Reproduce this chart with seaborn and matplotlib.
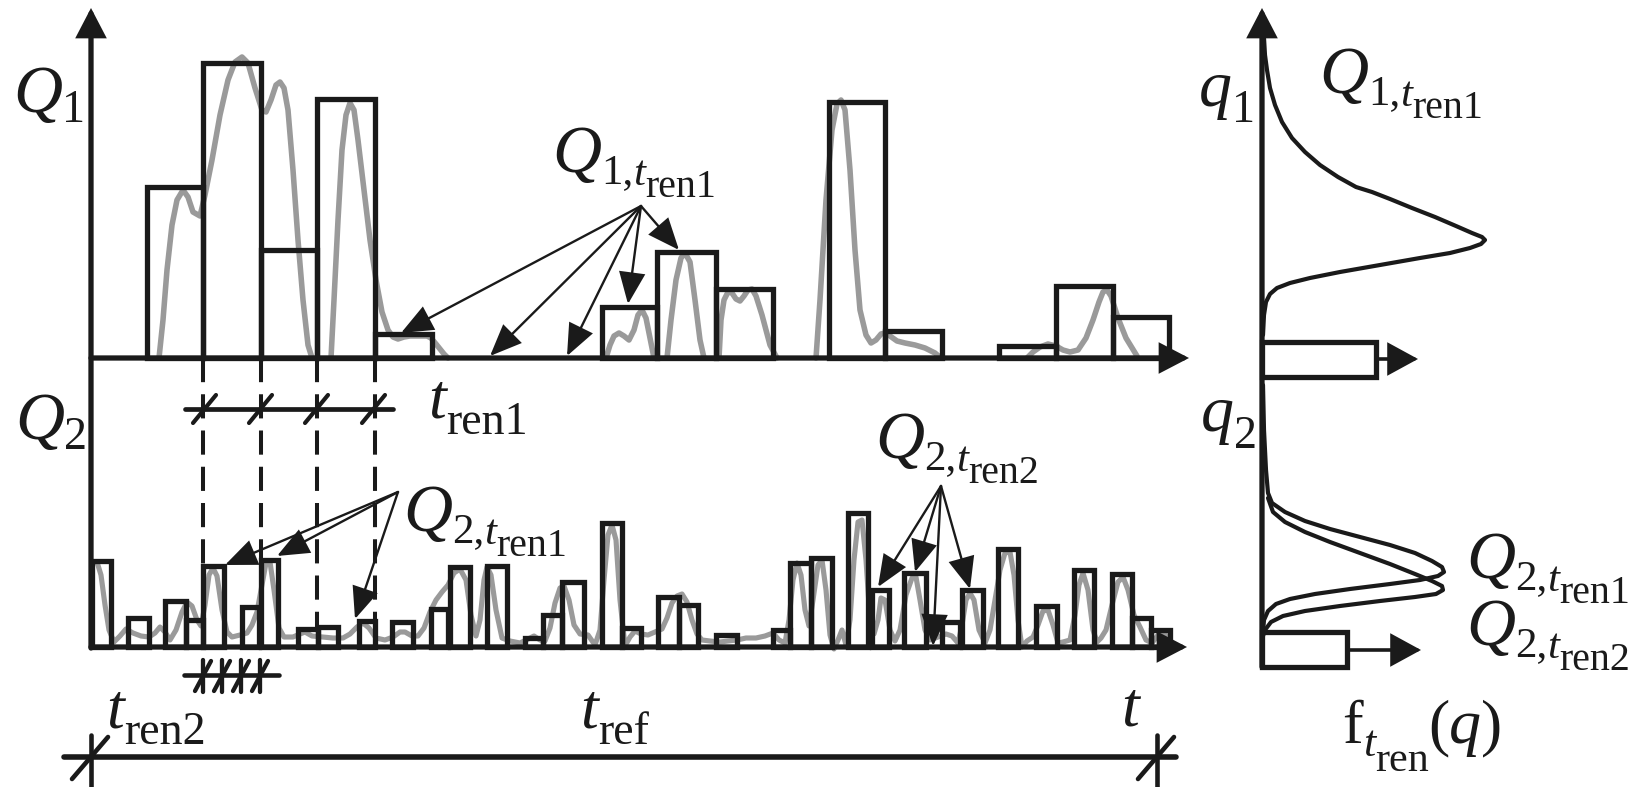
import numpy as np
import pandas as pd
import seaborn as sns
import matplotlib
matplotlib.use("Agg")
import matplotlib.pyplot as plt

# canvas is laid out in the pixel grid of the reference drawing
W, H = 1639, 787
DPI = 100

# ---------------- data ----------------
# Q1 series: bar edges along time and bar heights above its baseline
q1_base = 358
q1_left = [147, 203, 261, 317, 375, 602, 657, 716, 829, 885, 999, 1056, 1113]
q1_right = [203, 261, 317, 375, 432, 657, 716, 773, 885, 942, 1056, 1113, 1169]
q1_height = [171, 295, 108, 259, 24, 51, 106, 69, 256, 27, 12, 72, 41]

# Q2 series (finer renewal step)
q2_base = 647
q2_left = [92, 128, 165, 186, 203, 242, 261, 298, 318, 359, 392, 431, 450, 487,
           525, 543, 562, 602, 622, 658, 679, 716, 773, 790, 811, 848, 872, 904,
           942, 962, 998, 1036, 1074, 1112, 1132, 1151]
q2_right = [111, 149, 186, 203, 224, 259, 278, 318, 338, 375, 413, 448, 470, 507,
            543, 562, 584, 622, 641, 679, 698, 737, 790, 811, 832, 868, 889, 926,
            960, 983, 1018, 1057, 1094, 1132, 1151, 1170]
q2_height = [86, 29, 46, 27, 81, 40, 87, 18, 20, 26, 25, 38, 80, 81,
             9, 32, 65, 124, 19, 50, 42, 12, 17, 84, 89, 134, 57, 74,
             25, 57, 98, 41, 77, 73, 29, 17]

# raw Q1 signal (grey), segment id, t, y
q1_seg = [0] * 29 + [1] * 25 + [2] * 12 + [3] * 9 + [4] * 14 + [5] * 22 + [6] * 17
q1_t = [159, 163, 167, 172, 177, 183, 188, 193, 200, 205, 212, 220, 228, 235, 242, 248, 255,
        262, 266, 271, 276, 280, 284, 288, 293, 298, 303, 308, 312,
        331, 334, 338, 342, 346, 350, 354, 358, 364, 370, 376, 382, 388, 393, 398, 404,
        410, 416, 422, 427, 431, 436, 440, 444, 448,
        606, 610, 614, 619, 624, 629, 634, 638, 642, 646, 650, 654,
        667, 671, 676, 681, 685, 690, 695, 700, 704,
        719, 721, 724, 728, 732, 736, 740, 744, 748, 752, 756, 762, 770, 777,
        816, 820, 826, 832, 837, 841, 845, 850, 855, 860, 866, 871, 876, 881, 885, 890,
        897, 905, 915, 925, 935, 941,
        1027, 1033, 1040, 1048, 1056, 1063, 1070, 1078, 1086, 1093, 1099, 1103, 1107, 1111,
        1118, 1126, 1137]
q1_y = [358, 320, 270, 225, 200, 190, 197, 212, 216, 195, 160, 115, 80, 62, 57, 63, 88,
        110, 112, 100, 85, 82, 88, 110, 170, 240, 300, 345, 358,
        358, 300, 220, 150, 115, 103, 110, 140, 190, 240, 280, 312, 330, 337, 339, 337,
        336, 336, 336, 336, 338, 344, 349, 354, 358,
        358, 345, 336, 333, 336, 340, 330, 315, 310, 318, 338, 358,
        358, 320, 280, 258, 253, 262, 300, 340, 358,
        358, 320, 300, 292, 293, 299, 301, 296, 290, 289, 296, 315, 345, 358,
        358, 300, 200, 130, 104, 100, 110, 170, 250, 310, 335, 343, 340, 334, 333, 336,
        341, 343, 345, 348, 353, 358,
        358, 352, 347, 344, 346, 350, 352, 350, 338, 320, 302, 292, 290, 296,
        318, 338, 356]

# raw Q2 signal (grey)
q2_t = [93, 97, 101, 105, 109, 114, 120, 126, 133, 141, 149, 155, 160, 165, 170, 176, 182,
        187, 192, 197, 201, 205, 209, 213, 217, 222, 227, 232, 240, 247, 252, 257, 262,
        266, 270, 274, 279, 284, 293, 300, 305, 312, 323, 333, 343, 350, 357, 363, 369,
        376, 385, 393, 400, 405, 412, 418, 424, 430, 436, 442, 448, 454, 460, 466, 471,
        476, 480, 484, 487, 491, 496, 502, 510, 520, 528, 534, 540, 545, 550, 555, 560,
        564, 569, 574, 580, 588, 595, 600, 604, 608, 612, 616, 620, 625, 630, 635, 641,
        648, 655, 662, 667, 672, 677, 682, 687, 692, 697, 702, 710, 720, 728, 737, 746,
        756, 765, 773, 779, 785, 789, 793, 797, 801, 805, 809, 813, 818, 822, 826, 830,
        834, 838, 842, 846, 850, 854, 858, 862, 866, 870, 874, 878, 881, 885, 890, 895,
        900, 906, 912, 916, 920, 925, 930, 938, 946, 952, 958, 962, 966, 970, 974, 979,
        985, 990, 995, 1000, 1005, 1010, 1014, 1018, 1022, 1027, 1033, 1038, 1043, 1048,
        1053, 1058, 1063, 1070, 1075, 1079, 1083, 1088, 1093, 1097, 1101, 1106, 1112,
        1118, 1123, 1128, 1134, 1140, 1146, 1152, 1158, 1164, 1170]
q2_y = [563, 562, 575, 605, 630, 642, 636, 629, 633, 636, 637, 633, 627, 632, 640, 630, 612,
        602, 606, 620, 626, 605, 575, 568, 576, 610, 632, 637, 635, 633, 625, 612, 585,
        563, 562, 590, 628, 637, 637, 634, 632, 636, 637, 638, 638, 634, 627, 623, 628,
        638, 640, 637, 632, 632, 636, 636, 628, 612, 600, 592, 585, 573, 569, 580, 615,
        636, 620, 580, 567, 575, 610, 638, 641, 643, 639, 636, 640, 641, 628, 603, 588,
        586, 600, 625, 634, 635, 645, 630, 580, 535, 525, 540, 600, 646, 637, 631, 634,
        635, 632, 629, 618, 603, 596, 594, 602, 620, 634, 640, 641, 642, 641, 640, 638,
        638, 636, 633, 640, 643, 620, 580, 563, 575, 610, 626, 600, 565, 560, 590, 635,
        649, 640, 630, 645, 620, 560, 522, 520, 560, 620, 634, 620, 598, 600, 630, 641,
        630, 595, 578, 577, 600, 630, 640, 637, 634, 636, 643, 625, 600, 593, 600, 630,
        643, 630, 600, 570, 553, 552, 575, 620, 647, 641, 637, 625, 611, 610,
        625, 643, 642, 640, 615, 585, 573, 590, 630, 642, 638, 630, 605,
        582, 577, 590, 615, 627, 640, 643, 635, 633, 640]

# right panel: densities f(q) (x = density, y = q level)
pdf1_f = [1264, 1265, 1267, 1270, 1275, 1282, 1292, 1305, 1320, 1338, 1356, 1372, 1390, 1412,
          1435, 1456, 1472, 1482, 1485, 1481, 1470, 1450, 1420, 1380, 1340, 1310, 1290, 1277,
          1270, 1266, 1264, 1263]
pdf1_q = [38, 55, 70, 88, 105, 122, 138, 152, 165, 177, 187, 192, 199, 208,
          217, 226, 233, 237, 240, 244, 248, 253, 258, 265, 272, 278, 283, 288,
          294, 302, 315, 335]
pdf21_f = [1263, 1264, 1266, 1268, 1272, 1285, 1305, 1330, 1360, 1390, 1415, 1432, 1442, 1444,
           1438, 1420, 1390, 1350, 1315, 1290, 1276, 1268, 1264, 1263]
pdf21_q = [385, 430, 470, 493, 503, 512, 521, 529, 537, 545, 553, 561, 567, 572,
           576, 580, 584, 589, 594, 599, 604, 611, 620, 632]
pdf22_f = [1268, 1273, 1285, 1305, 1330, 1360, 1390, 1415, 1432, 1442, 1443, 1436, 1415, 1380,
           1340, 1305, 1283, 1271, 1265, 1263]
pdf22_q = [498, 512, 522, 532, 542, 553, 564, 574, 581, 586, 590, 594, 597, 601,
           606, 611, 616, 622, 630, 636]
# levels q1, q2 (boxes on the density axis)
box_left = [1262, 1262]
box_len = [114, 85]
box_top = [342, 632]
box_bottom = [377, 667]

# ---------------- drawing ----------------
sns.set_theme(style="white")
plt.rcParams["font.family"] = ["Liberation Serif", "DejaVu Serif"]

fig = plt.figure(figsize=(W / DPI, H / DPI), dpi=DPI)
ax = fig.add_axes([0, 0, 1, 1])
ax.set_xlim(0, W)
ax.set_ylim(H, 0)
ax.axis("off")
rend = fig.canvas.get_renderer()

GREY = "#9a9a9a"
LW = 3.8


def arrow(x0, y0, x1, y1, lw=1.7, hl=0.6, hw=0.25, ms=33):
    ax.annotate("", xy=(x1, y1), xytext=(x0, y0), annotation_clip=False,
                arrowprops=dict(arrowstyle=f"-|>,head_length={hl},head_width={hw}",
                                mutation_scale=ms, lw=lw, color="k",
                                shrinkA=0, shrinkB=0, joinstyle="miter"))


def rich(x, y, parts):
    # parts: (text, size in px, italic, baseline shift in px)
    for s, px, it, dy in parts:
        t = ax.text(x, y + dy, s, fontsize=px * 0.72, fontstyle="italic" if it else "normal",
                    family="Liberation Serif", va="baseline", ha="left", color="k")
        x += t.get_window_extent(rend).width


def q_label(x, y, idx, ren):
    rich(x, y, [("Q", 68, True, 0), (f"{idx},", 43, False, 11),
                ("t", 43, True, 13), (ren, 40, False, 25)])


# grey raw signals
df1 = pd.DataFrame({"t": q1_t, "y": q1_y, "seg": q1_seg})
sns.lineplot(data=df1, x="t", y="y", units="seg", estimator=None, sort=False,
             color=GREY, linewidth=4.0, ax=ax, zorder=2)
df2 = pd.DataFrame({"t": q2_t, "y": q2_y})
sns.lineplot(data=df2, x="t", y="y", estimator=None, sort=False,
             color=GREY, linewidth=3.7, ax=ax, zorder=2)

# averaged bars
for left, right, hgt, base in [(q1_left, q1_right, q1_height, q1_base),
                               (q2_left, q2_right, q2_height, q2_base)]:
    left = np.array(left)
    ax.bar(left, -np.array(hgt), width=np.array(right) - left, bottom=base, align="edge",
           facecolor="none", edgecolor="k", linewidth=LW, zorder=3)

# axes with arrows
arrow(91, q1_base, 1189, q1_base, lw=LW, hl=0.48, hw=0.25)
arrow(91, q2_base, 1187, q2_base, lw=LW, hl=0.48, hw=0.25)
arrow(91, q2_base + 1, 91, 8, lw=LW, hl=0.48, hw=0.25)
arrow(1262, 667, 1262, 8, lw=LW, hl=0.48, hw=0.25)

# renewal grid: dashed guides from Q1 steps down to Q2 bars
for x, y_end in [(203, 566), (261, 560), (317, 627), (375, 621)]:
    ax.plot([x, x], [q1_base, y_end], color="k", lw=2.9, dashes=(6.0, 3.0), zorder=3)

# t_ren1 scale bar
ax.plot([185, 393], [409, 409], color="k", lw=3.4)
for x in [204, 260, 316, 373]:
    ax.plot([x - 11, x + 12], [423, 395], color="k", lw=3.0)
rich(428, 417, [("t", 64, True, 0), ("ren1", 46, False, 17)])

# t_ren2 scale bar
ax.plot([184, 279], [675, 675], color="k", lw=3.3)
for x in [203, 222, 241, 260]:
    ax.plot([x, x], [660, 692], color="k", lw=3.1)
    ax.plot([x - 8, x + 8], [691, 661], color="k", lw=3.1)

# t_ref span
ax.plot([64, 1176], [757, 757], color="k", lw=4.0)
for x in [91, 1157]:
    ax.plot([x, x], [735, 787], color="k", lw=3.3)
    ax.plot([x - 19, x + 17], [779, 737], color="k", lw=3.3)

# density curves
for f, q in [(pdf1_f, pdf1_q), (pdf21_f, pdf21_q), (pdf22_f, pdf22_q)]:
    sns.lineplot(x=f, y=q, sort=False, estimator=None, color="k", linewidth=3.0, ax=ax, zorder=3)

# level boxes with arrows
bl = np.array(box_left)
ax.barh(box_top, np.array(box_len), height=np.array(box_bottom) - np.array(box_top),
        left=bl, align="edge", facecolor="none", edgecolor="k", linewidth=LW, zorder=3)
arrow(1376, 359, 1418, 359, lw=2.6, hl=0.55, hw=0.3)
arrow(1347, 650, 1421, 650, lw=2.6, hl=0.55, hw=0.3)

# annotation arrows
for x1, y1 in [(401, 333), (490, 356), (567, 356), (628, 304), (679, 250)]:
    arrow(641, 206, x1, y1)
for x1, y1 in [(225, 565), (277, 556), (355, 619)]:
    arrow(398, 492, x1, y1)
for x1, y1 in [(878, 587), (915, 572), (933, 646), (970, 589)]:
    arrow(941, 486, x1, y1)

# labels
rich(13, 112, [("Q", 68, True, 0), ("1", 46, False, 10)])
rich(15, 439, [("Q", 68, True, 0), ("2", 46, False, 10)])
q_label(552, 172, 1, "ren1")
q_label(403, 531, 2, "ren1")
q_label(875, 458, 2, "ren2")
rich(1199, 106, [("q", 66, True, 0), ("1", 46, False, 16)])
rich(1201, 431, [("q", 66, True, 0), ("2", 46, False, 17)])
q_label(1319, 93, 1, "ren1")
q_label(1466, 578, 2, "ren1")
q_label(1466, 645, 2, "ren2")
rich(1342, 743, [("f", 62, False, 0), ("t", 44, True, 13), ("ren", 42, False, 28)])
rich(1428, 743, [("(", 64, False, 0), ("q", 64, True, 0), (")", 64, False, 0)])
rich(106, 727, [("t", 64, True, 0), ("ren2", 46, False, 17)])
rich(580, 727, [("t", 64, True, 0), ("ref", 46, False, 17)])
rich(1121, 725, [("t", 64, True, 0)])

fig.savefig("out.png", dpi=DPI)
